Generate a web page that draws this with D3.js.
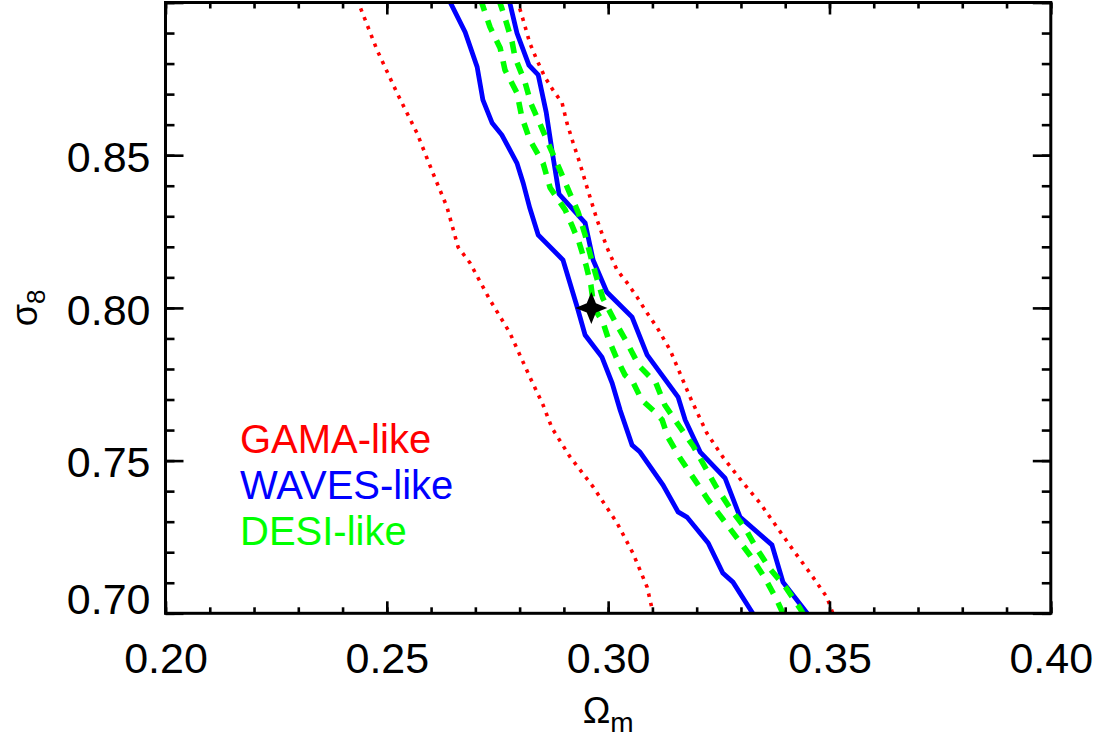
<!DOCTYPE html>
<html>
<head>
<meta charset="utf-8">
<script src="https://cdn.jsdelivr.net/npm/d3@7"></script>
<style>
	body { margin: 0; background: #fff; }
	svg { display: block; font-family: "Liberation Sans", Arial, sans-serif; }
	.axis .domain { display: none; }
	.axis line { stroke: #000; stroke-width: 2.6; }
	.axis text { font-family: "Liberation Sans", Arial, sans-serif; font-size: 43px; fill: #000; }
	.legend text { font-size: 40px; }
</style>
</head>
<body>
<div id="chart"></div>
<script>
// contour branches, [Omega_m, sigma_8]
var gamaLeft = [
	[0.2433, 0.9010], [0.2478, 0.8844], [0.2523, 0.8704], [0.2568, 0.8573], [0.2604, 0.8442],
	[0.2636, 0.8330], [0.2661, 0.8199], [0.2688, 0.8147], [0.2733, 0.8026], [0.2778, 0.7918],
	[0.2823, 0.7774], [0.2853, 0.7682], [0.2873, 0.7607], [0.2914, 0.7512], [0.2966, 0.7414],
	[0.3020, 0.7296], [0.3056, 0.7197], [0.3088, 0.7086], [0.3103, 0.6990]
];
var gamaRight = [
	[0.2794, 0.9010], [0.2808, 0.8943], [0.2823, 0.8867], [0.2839, 0.8812], [0.2857, 0.8756],
	[0.2875, 0.8714], [0.2896, 0.8671], [0.2907, 0.8605], [0.2921, 0.8540], [0.2936, 0.8474],
	[0.2952, 0.8396], [0.2966, 0.8330], [0.2975, 0.8288], [0.2997, 0.8199], [0.3020, 0.8124],
	[0.3043, 0.8082], [0.3065, 0.8036], [0.3088, 0.7983], [0.3110, 0.7937], [0.3140, 0.7862],
	[0.3162, 0.7787], [0.3185, 0.7708], [0.3223, 0.7590], [0.3259, 0.7512], [0.3305, 0.7427],
	[0.3343, 0.7361], [0.3381, 0.7283], [0.3418, 0.7207], [0.3456, 0.7132], [0.3494, 0.7053],
	[0.3510, 0.6990]
];
var wavesLeft = [
	[0.2640, 0.9010], [0.2677, 0.8903], [0.2704, 0.8789], [0.2717, 0.8681], [0.2738, 0.8605],
	[0.2760, 0.8566], [0.2794, 0.8474], [0.2808, 0.8409], [0.2823, 0.8327], [0.2842, 0.8239],
	[0.2898, 0.8157], [0.2930, 0.8003], [0.2948, 0.7911], [0.2986, 0.7839], [0.3009, 0.7754],
	[0.3027, 0.7666], [0.3054, 0.7551], [0.3072, 0.7528], [0.3124, 0.7420], [0.3158, 0.7332],
	[0.3178, 0.7315], [0.3226, 0.7230], [0.3259, 0.7132], [0.3282, 0.7102], [0.3331, 0.6990]
];
var wavesRight = [
	[0.2776, 0.9010], [0.2794, 0.8900], [0.2821, 0.8795], [0.2842, 0.8763], [0.2860, 0.8641],
	[0.2873, 0.8517], [0.2889, 0.8373], [0.2948, 0.8278], [0.2966, 0.8157], [0.2997, 0.8052],
	[0.3054, 0.7970], [0.3088, 0.7846], [0.3158, 0.7708], [0.3174, 0.7633], [0.3208, 0.7528],
	[0.3264, 0.7443], [0.3298, 0.7315], [0.3370, 0.7224], [0.3395, 0.7102], [0.3455, 0.6990]
];
var desiLeft = [
	[0.2712, 0.9010], [0.2733, 0.8920], [0.2756, 0.8851], [0.2767, 0.8779], [0.2794, 0.8704],
	[0.2805, 0.8625], [0.2823, 0.8550], [0.2853, 0.8474], [0.2869, 0.8393], [0.2903, 0.8321],
	[0.2918, 0.8271], [0.2934, 0.8216], [0.2950, 0.8140], [0.2961, 0.8075], [0.2968, 0.8000],
	[0.2988, 0.7954], [0.3000, 0.7901], [0.3018, 0.7839], [0.3038, 0.7780], [0.3056, 0.7757],
	[0.3076, 0.7698], [0.3106, 0.7659], [0.3122, 0.7633], [0.3135, 0.7577], [0.3162, 0.7509],
	[0.3196, 0.7436], [0.3226, 0.7371], [0.3257, 0.7312], [0.3291, 0.7247], [0.3320, 0.7191],
	[0.3354, 0.7116], [0.3381, 0.7044], [0.3398, 0.6990]
];
var desiRight = [
	[0.2753, 0.9010], [0.2765, 0.8959], [0.2783, 0.8871], [0.2790, 0.8818], [0.2812, 0.8740],
	[0.2826, 0.8668], [0.2848, 0.8596], [0.2869, 0.8524], [0.2891, 0.8452], [0.2912, 0.8380],
	[0.2932, 0.8314], [0.2948, 0.8239], [0.2964, 0.8150], [0.2977, 0.8085], [0.2988, 0.8032],
	[0.3004, 0.7987], [0.3016, 0.7954], [0.3043, 0.7885], [0.3070, 0.7810], [0.3108, 0.7754],
	[0.3128, 0.7682], [0.3162, 0.7610], [0.3192, 0.7548], [0.3219, 0.7479], [0.3244, 0.7414],
	[0.3275, 0.7345], [0.3309, 0.7279], [0.3336, 0.7211], [0.3366, 0.7145], [0.3402, 0.7083],
	[0.3433, 0.7017], [0.3444, 0.6990]
];
// fiducial cosmology
var fiducial = [0.2962, 0.8000];

var xTicks = [0.20, 0.25, 0.30, 0.35, 0.40];
var yTicks = [0.70, 0.75, 0.80, 0.85, 0.90];
var yLabels = ["0.70", "0.75", "0.80", "0.85", ""];

var series = [
	{ name: "GAMA-like", color: "#ff0000", branches: [gamaLeft, gamaRight], width: 3.6, dash: "3.5,6" },
	{ name: "WAVES-like", color: "#0000ff", branches: [wavesLeft, wavesRight], width: 4.8, dash: null },
	{ name: "DESI-like", color: "#00ff00", branches: [desiLeft, desiRight], width: 5.6, dash: "12,10" }
];

var width = 1103, height = 738;
var margin = { left: 165.5, top: 2.5, right: 1103 - 1050.8, bottom: 738 - 613.3 };
var w = width - margin.left - margin.right;
var h = height - margin.top - margin.bottom;

var svg = d3.select("#chart").append("svg")
	.attr("width", width)
	.attr("height", height);

var g = svg.append("g")
	.attr("transform", "translate(" + margin.left + "," + margin.top + ")");

var x = d3.scaleLinear().domain([0.20, 0.40]).range([0, w]);
var y = d3.scaleLinear().domain([0.70, 0.90]).range([h, 0]);

var xMinor = d3.range(0, 21).map(function(i) { return 0.20 + i * 0.01; });
var yMinor = d3.range(0, 21).map(function(i) { return 0.70 + i * 0.01; });

g.append("clipPath").attr("id", "plotclip")
	.append("rect").attr("width", w).attr("height", h);

// contours
var line = d3.line()
	.x(function(d) { return x(d[0]); })
	.y(function(d) { return y(d[1]); });

var curves = g.append("g").attr("clip-path", "url(#plotclip)");

series.forEach(function(s) {
	s.branches.forEach(function(b) {
		curves.append("path")
			.datum(b)
			.attr("d", line)
			.attr("fill", "none")
			.attr("stroke", s.color)
			.attr("stroke-width", s.width)
			.attr("stroke-dasharray", s.dash)
			.attr("stroke-linejoin", "miter");
	});
});

// fiducial point, four pointed star
var star = d3.lineRadial()
	.angle(function(d) { return d.a; })
	.radius(function(d) { return d.r; })
	.curve(d3.curveLinearClosed);
var starPts = d3.range(8).map(function(i) {
	return { a: i * Math.PI / 4, r: i % 2 ? 6.5 : 16 };
});
curves.append("path")
	.attr("d", star(starPts))
	.attr("transform", "translate(" + x(fiducial[0]) + "," + y(fiducial[1]) + ")")
	.attr("fill", "#000");

// axes, ticks pointing inward on all four sides
g.append("g").attr("class", "axis")
	.attr("transform", "translate(0," + h + ")")
	.call(d3.axisBottom(x).tickValues(xMinor).tickSize(-6).tickFormat(""));
g.append("g").attr("class", "axis")
	.attr("transform", "translate(0," + h + ")")
	.call(d3.axisBottom(x).tickValues(xTicks).tickSize(-12).tickPadding(29).tickFormat(d3.format(".2f")));
g.append("g").attr("class", "axis")
	.call(d3.axisTop(x).tickValues(xMinor).tickSize(-6).tickFormat(""));
g.append("g").attr("class", "axis")
	.call(d3.axisTop(x).tickValues(xTicks).tickSize(-12).tickFormat(""));

g.append("g").attr("class", "axis")
	.call(d3.axisLeft(y).tickValues(yMinor).tickSize(-9).tickFormat(""));
var yAxis = g.append("g").attr("class", "axis")
	.call(d3.axisLeft(y).tickValues(yTicks).tickSize(-18).tickPadding(15)
		.tickFormat(function(d, i) { return yLabels[i]; }));
yAxis.selectAll("text")
	.attr("dy", function(d, i) { return i === 0 ? "0" : "0.38em"; });

g.append("g").attr("class", "axis")
	.attr("transform", "translate(" + w + ",0)")
	.call(d3.axisRight(y).tickValues(yMinor).tickSize(-9).tickFormat(""));
g.append("g").attr("class", "axis")
	.attr("transform", "translate(" + w + ",0)")
	.call(d3.axisRight(y).tickValues(yTicks).tickSize(-18).tickFormat(""));

// frame
g.append("rect")
	.attr("width", w)
	.attr("height", h)
	.attr("fill", "none")
	.attr("stroke", "#000")
	.attr("stroke-width", 3);

// axis titles
var xt = svg.append("text")
	.attr("x", margin.left + w / 2)
	.attr("y", 723)
	.attr("text-anchor", "middle")
	.style("font-size", "37px");
xt.append("tspan").text("Ω");
xt.append("tspan").attr("dy", 9).style("font-size", "28px").text("m");

var yt = svg.append("text")
	.attr("transform", "translate(37," + (margin.top + h / 2) + ") rotate(-90)")
	.attr("text-anchor", "middle")
	.style("font-size", "36px");
yt.append("tspan").text("σ");
yt.append("tspan").attr("dy", 8).style("font-size", "26px").text("8");

// legend
var legend = svg.append("g").attr("class", "legend");
legend.selectAll("text")
	.data(series)
	.enter().append("text")
	.attr("x", 240)
	.attr("y", function(d, i) { return 453 + i * 46; })
	.attr("fill", function(d) { return d.color; })
	.text(function(d) { return d.name; });
</script>
</body>
</html>
